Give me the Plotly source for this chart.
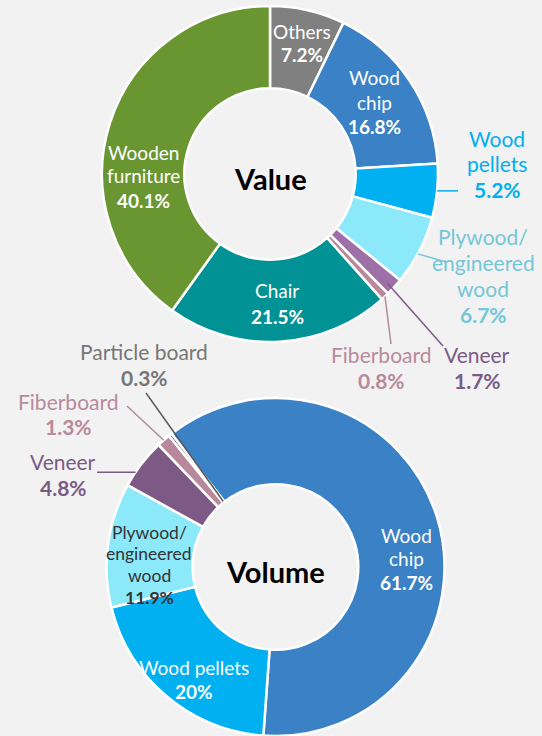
import math
import plotly.graph_objects as go

# ---------------- data ----------------
value_labels = ["Others", "Wood chip", "Wood pellets", "Plywood/engineered wood",
                "Veneer", "Fiberboard", "Chair", "Wooden furniture"]
value_shares = [7.2, 16.8, 5.2, 6.7, 1.7, 0.8, 21.5, 40.1]

volume_labels = ["Wood chip", "Wood pellets", "Plywood/engineered wood",
                 "Veneer", "Fiberboard", "Particle board"]
volume_shares = [61.7, 20.0, 11.9, 4.8, 1.3, 0.3]

# ---------------- style ----------------
W, H = 542, 736
BG = "#f2f2f2"
FONT = "Lato"

slice_colors = {
    "Others": "#808080",
    "Wood chip": "#3b81c5",
    "Wood pellets": "#00b0f0",
    "Plywood/engineered wood": "#8be9fa",
    "Veneer": "#9e70a8",
    "Fiberboard": "#b8899a",
    "Chair": "#009294",
    "Wooden furniture": "#6a9632",
    "Particle board": "#5f5f5f",
}
volume_colors = dict(slice_colors, Veneer="#7d5a85")

TOP = dict(cx=270, cy=174, r=168, hole=0.51, rotation=0)
BOT = dict(cx=275.5, cy=567, r=169, hole=0.49, rotation=-38)


def domain(g):
    return dict(x=[(g["cx"] - g["r"]) / W, (g["cx"] + g["r"]) / W],
                y=[max(0, 1 - (g["cy"] + g["r"]) / H), 1 - (g["cy"] - g["r"]) / H])


def slice_angle(g, shares, idx, frac=0.5):
    tot = sum(shares)
    start = g["rotation"] + 360 * sum(shares[:idx]) / tot
    return start + frac * 360 * shares[idx] / tot


def pt(g, ang, rad):
    a = math.radians(ang)
    return (g["cx"] + rad * math.sin(a), g["cy"] - rad * math.cos(a))


def px(x, y):
    return x / W, 1 - y / H


fig = go.Figure()
for g, labels, shares, cols in [(TOP, value_labels, value_shares, slice_colors),
                                (BOT, volume_labels, volume_shares, volume_colors)]:
    fig.add_trace(go.Pie(
        labels=labels, values=shares, sort=False, direction="clockwise",
        rotation=g["rotation"], hole=g["hole"], domain=domain(g),
        marker=dict(colors=[cols[l] for l in labels], line=dict(color="white", width=2.5)),
        textinfo="none", hoverinfo="label+percent", showlegend=False,
    ))

# ---------------- labels ----------------
WHITE = "white"
C_PELL = "#00b0f0"
C_PLY = "#74c7d8"
C_VEN = "#7b5a86"
C_FIB = "#b88a9b"
C_PART = "#767676"


def fmt(v):
    return ("%g" % v) + "%"


# (chart, index, name lines, x px, first line y px, line step, colour, size)
label_specs = [
    ("top", 0, ["Others"], 302, 31, 24, WHITE, 19),
    ("top", 1, ["Wood", "chip"], 374, 77, 25, WHITE, 19),
    ("top", 2, ["Wood", "pellets"], 497, 138, 25.5, C_PELL, 21),
    ("top", 3, ["Plywood/", "engineered", "wood"], 483, 236, 26.3, C_PLY, 21),
    ("top", 4, ["Veneer"], 477, 354, 26, C_VEN, 21),
    ("top", 5, ["Fiberboard"], 381, 354, 26, C_FIB, 21),
    ("top", 6, ["Chair"], 277, 290, 26, WHITE, 19),
    ("top", 7, ["Wooden", "furniture"], 143, 152, 24, WHITE, 19),
    ("bot", 0, ["Wood", "chip"], 406, 535, 23.5, WHITE, 19),
    ("bot", 1, ["Wood pellets"], 194, 667, 24, WHITE, 19),
    ("bot", 2, ["Plywood/", "engineered", "wood"], 149, 532, 21.7, "#333333", 17.5),
    ("bot", 3, ["Veneer"], 63, 462, 26, C_VEN, 21),
    ("bot", 4, ["Fiberboard"], 68, 401, 25.5, C_FIB, 21),
    ("bot", 5, ["Particle board"], 144, 351, 26, C_PART, 21),
]

annotations = []
for chart, idx, lines, x, y0, step, col, size in label_specs:
    shares = value_shares if chart == "top" else volume_shares
    texts = lines + [f"<b>{fmt(shares[idx])}</b>"]
    for k, t in enumerate(texts):
        xx, yy = px(x, y0 + k * step)
        annotations.append(dict(
            x=xx, y=yy, xref="paper", yref="paper", showarrow=False, text=t,
            font=dict(family=FONT, size=size, color=col),
            xanchor="center", yanchor="middle", align="center",
        ))

for txt, g in [("Value", TOP), ("Volume", BOT)]:
    xx, yy = px(g["cx"], g["cy"] + 4)
    annotations.append(dict(x=xx, y=yy, xref="paper", yref="paper", showarrow=False,
                            text=f"<b>{txt}</b>", font=dict(family=FONT, size=29, color="black"),
                            xanchor="center", yanchor="middle"))

# ---------------- leader lines ----------------
# (chart, slice index, fraction within slice, start radius, end x px, end y px, colour)
leader_specs = [
    ("top", 2, 0.5, 168, 458, None, C_PELL),
    ("top", 3, 0.55, 168, 446, 262, C_PLY),
    ("top", 4, 0.6, 160, 443, 346, C_VEN),
    ("top", 5, 0.5, 168, 391, 344, C_FIB),
    ("bot", 3, 0.3, 169, 97, None, C_VEN),
    ("bot", 4, 0.5, 169, 127, 406, C_FIB),
    ("bot", 5, 0.5, 84, 146, 393, "#5a5a5a"),
]
shapes = []
for chart, idx, frac, rad, ex, ey, col in leader_specs:
    g = TOP if chart == "top" else BOT
    shares = value_shares if chart == "top" else volume_shares
    sx, sy = pt(g, slice_angle(g, shares, idx, frac), rad)
    if ey is None:
        ey = sy
    x0, y0 = px(sx, sy)
    x1, y1 = px(ex, ey)
    shapes.append(dict(type="line", xref="paper", yref="paper", x0=x0, y0=y0, x1=x1, y1=y1,
                       line=dict(color=col, width=1.5), layer="above"))

fig.update_layout(
    width=W, height=H, margin=dict(l=0, r=0, t=0, b=0),
    paper_bgcolor=BG, plot_bgcolor=BG,
    annotations=annotations, shapes=shapes,
    font=dict(family=FONT),
)

fig.write_html(
    "out.html",
    config={"displayModeBar": False},
    post_script="document.body.style.margin='0';document.body.style.padding='0';"
                "document.body.style.overflow='hidden';document.body.style.background='#f2f2f2';",
)
